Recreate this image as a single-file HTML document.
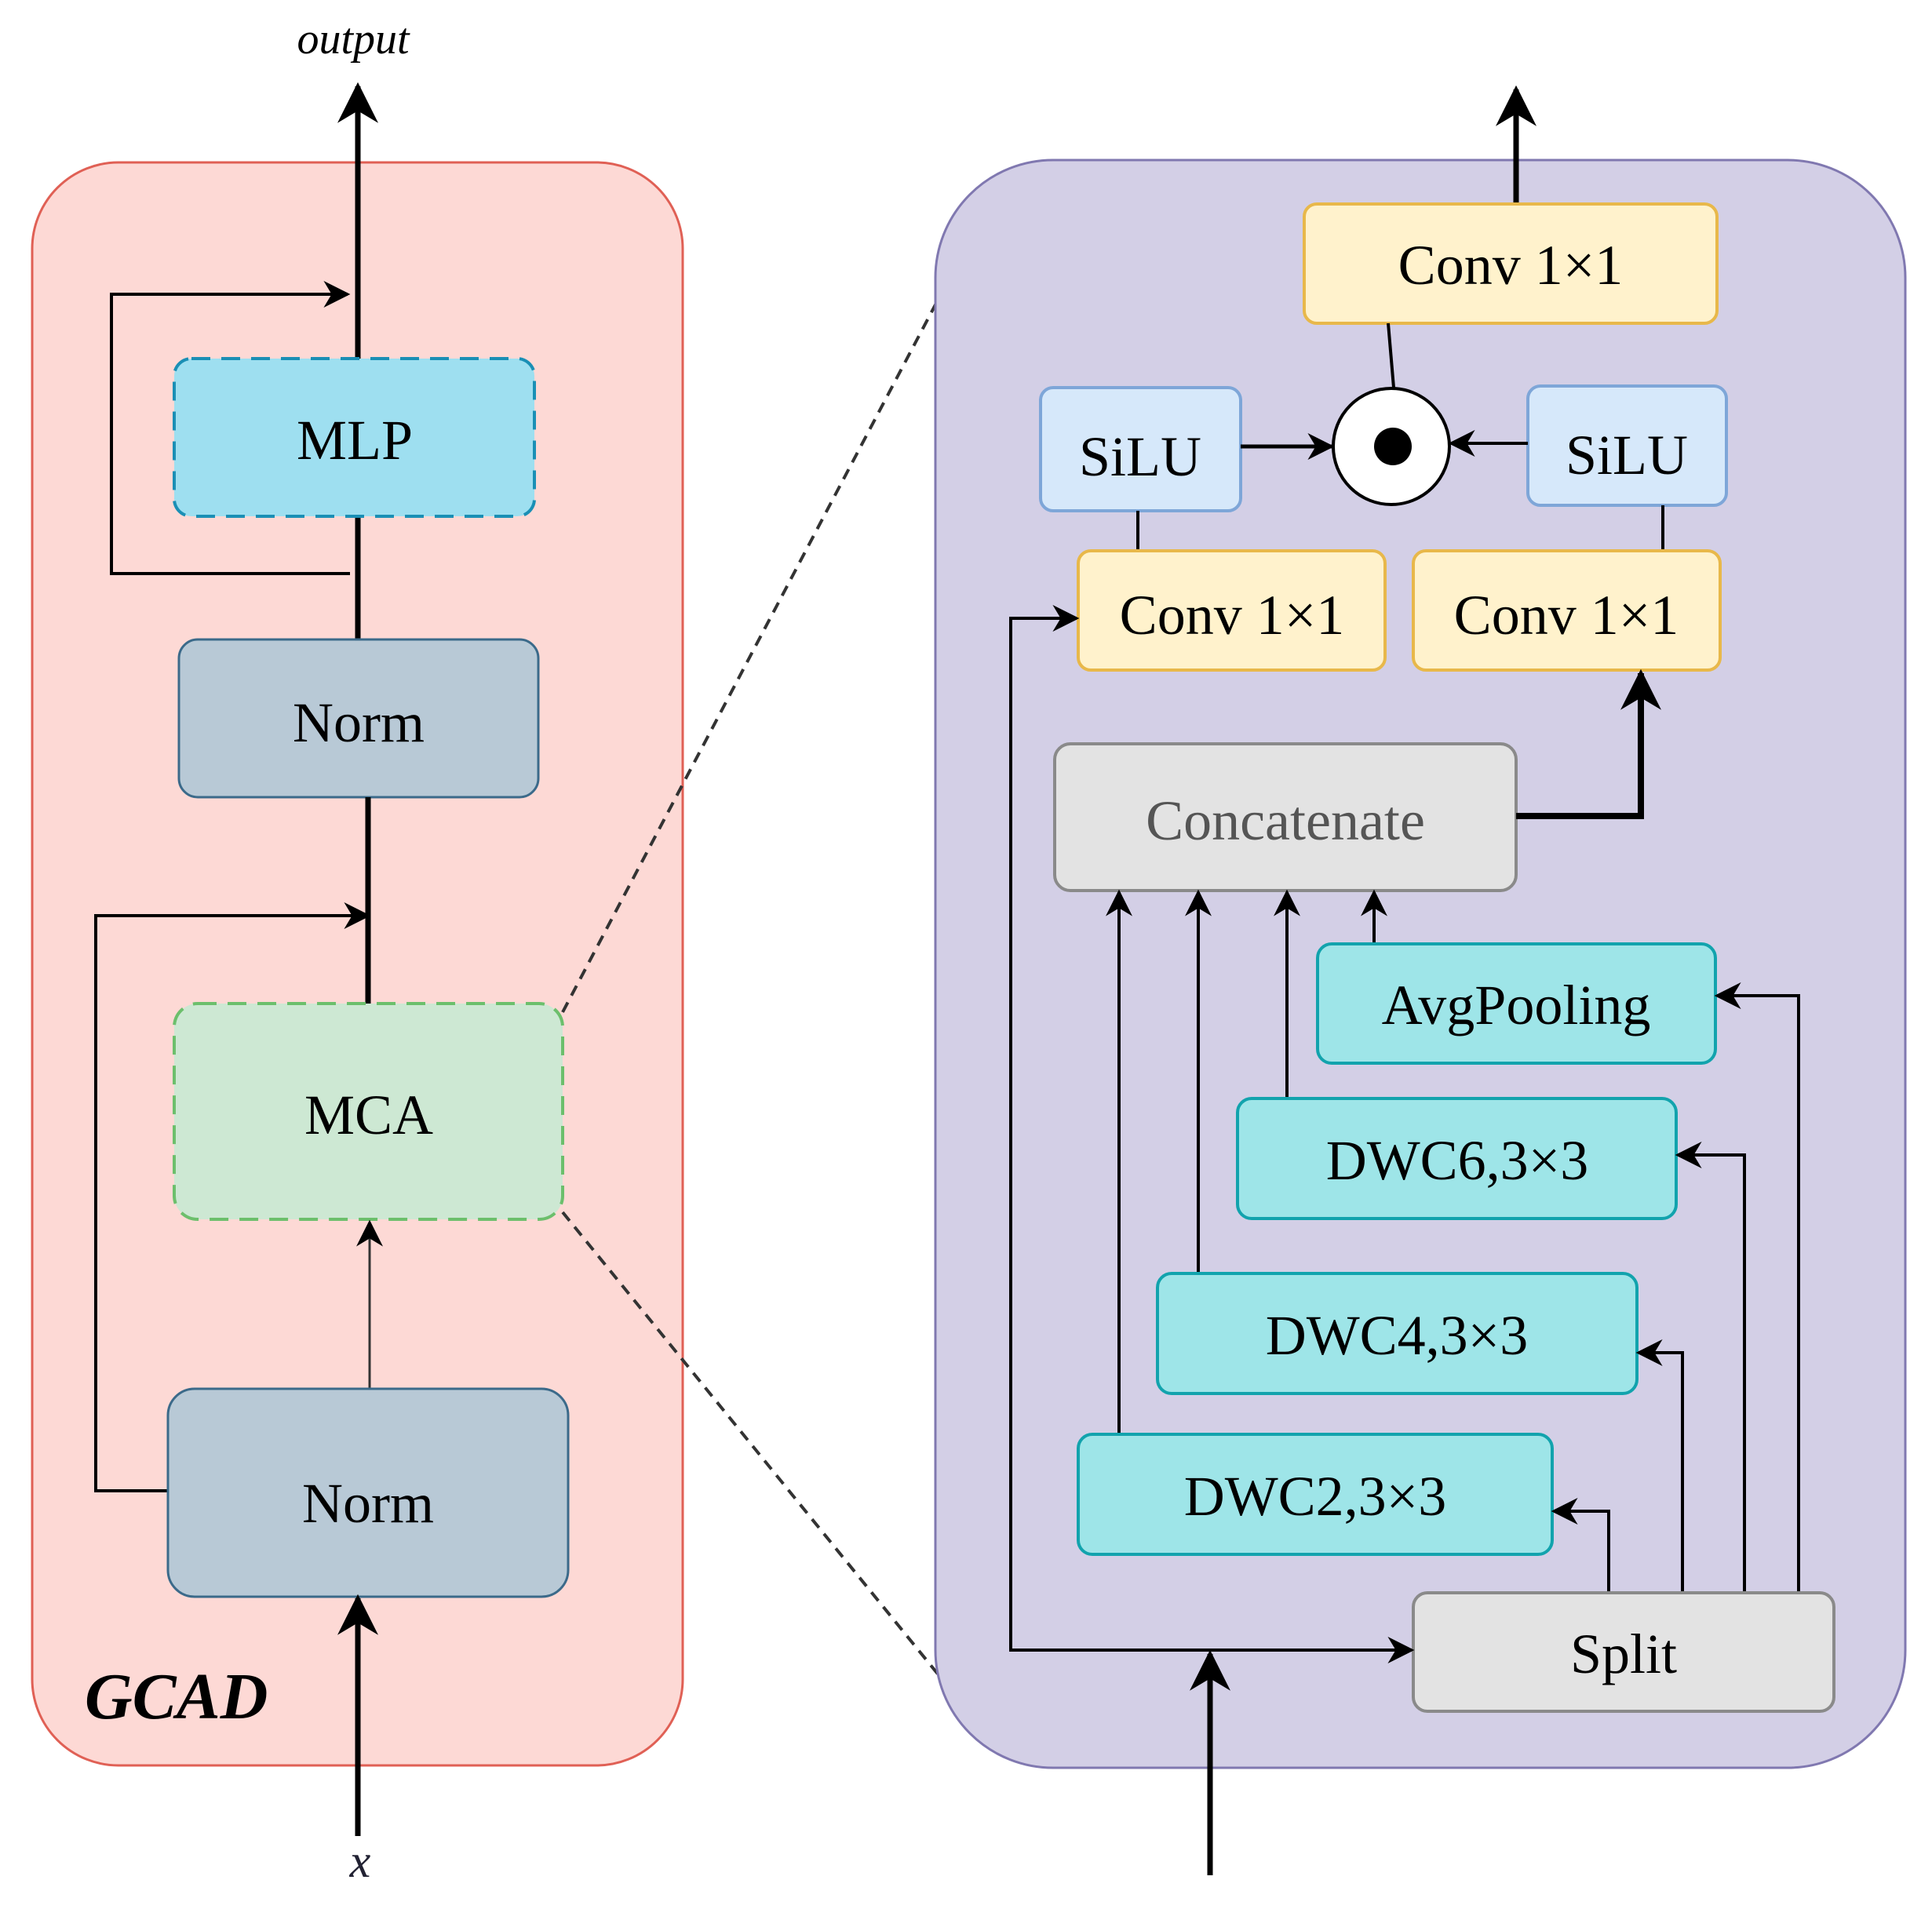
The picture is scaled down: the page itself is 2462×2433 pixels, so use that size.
<!DOCTYPE html>
<html><head><meta charset="utf-8"><style>html,body{margin:0;padding:0;background:#fff}svg{display:block}</style></head>
<body>
<svg width="2462" height="2433" viewBox="0 0 2462 2433" xmlns="http://www.w3.org/2000/svg" font-family="'Liberation Serif', serif">
<defs>
<marker id="a" viewBox="0 0 10 10" refX="9" refY="5" markerWidth="10" markerHeight="10" markerUnits="userSpaceOnUse" orient="auto"><path d="M0,0 L10,5 L0,10 L3,5 z" fill="#000"/></marker>
<marker id="am" viewBox="0 0 10 10" refX="9" refY="5" markerWidth="34" markerHeight="34" markerUnits="userSpaceOnUse" orient="auto"><path d="M0,0 L10,5 L0,10 L3,5 z" fill="#000"/></marker>
<marker id="ab" viewBox="0 0 10 10" refX="9" refY="5" markerWidth="52" markerHeight="52" markerUnits="userSpaceOnUse" orient="auto"><path d="M0,0 L10,5 L0,10 L3,5 z" fill="#000"/></marker>
</defs>

<!-- Left GCAD -->
<rect x="41" y="207" width="829" height="2043" rx="110" fill="#fdd9d5" stroke="#e06055" stroke-width="3"/>
<text x="450" y="68" font-size="56" font-style="italic" text-anchor="middle">output</text>
<line x1="456" y1="457" x2="456" y2="110" stroke="#000" stroke-width="7" marker-end="url(#ab)"/>
<line x1="456" y1="658" x2="456" y2="815" stroke="#000" stroke-width="7"/>
<polyline points="446,731 142,731 142,375 443,375" fill="none" stroke="#000" stroke-width="4" marker-end="url(#am)"/>
<rect x="222" y="457" width="459" height="201" rx="22" fill="#9edff0" stroke="#1a8fb5" stroke-width="4" stroke-dasharray="24,14"/>
<text x="452" y="585" font-size="72" text-anchor="middle">MLP</text>
<rect x="228" y="815" width="458" height="201" rx="24" fill="#b8c9d6" stroke="#3b6a8a" stroke-width="3"/>
<text x="457" y="945" font-size="72" text-anchor="middle">Norm</text>
<line x1="469" y1="1016" x2="469" y2="1279" stroke="#000" stroke-width="7"/>
<polyline points="214,1900 122,1900 122,1167 469,1167" fill="none" stroke="#000" stroke-width="4" marker-end="url(#am)"/>
<rect x="222" y="1279" width="495" height="275" rx="30" fill="#cde8d3" stroke="#6cbf6c" stroke-width="4" stroke-dasharray="24,14"/>
<text x="470" y="1445" font-size="72" text-anchor="middle">MCA</text>
<line x1="471" y1="1770" x2="471" y2="1558" stroke="#333" stroke-width="3" marker-end="url(#am)"/>
<rect x="214" y="1770" width="510" height="265" rx="34" fill="#b8c9d6" stroke="#3b6a8a" stroke-width="3"/>
<text x="469" y="1940" font-size="72" text-anchor="middle">Norm</text>
<line x1="456" y1="2340" x2="456" y2="2037" stroke="#000" stroke-width="7" marker-end="url(#ab)"/>
<text x="108" y="2190" font-size="84" font-weight="bold" font-style="italic">GCAD</text>
<text x="459" y="2392" font-size="60" font-style="italic" fill="#223" text-anchor="middle">x</text>

<!-- dashed zoom lines -->
<line x1="717" y1="1290" x2="1199" y2="375" stroke="#333" stroke-width="4" stroke-dasharray="14,10"/>
<line x1="717" y1="1545" x2="1228" y2="2174" stroke="#333" stroke-width="4" stroke-dasharray="14,10"/>

<!-- Right MCA detail -->
<rect x="1192" y="204" width="1236" height="2049" rx="150" fill="#d3cfe6" stroke="#8078b0" stroke-width="3"/>
<line x1="1932" y1="261" x2="1932" y2="114" stroke="#000" stroke-width="7" marker-end="url(#ab)"/>
<rect x="1662" y="260" width="526" height="152" rx="16" fill="#fff2cc" stroke="#e8b84a" stroke-width="4"/>
<text x="1925" y="362" font-size="72" text-anchor="middle">Conv 1×1</text>
<line x1="1769" y1="412" x2="1776" y2="494" stroke="#000" stroke-width="4"/>
<circle cx="1773" cy="569" r="74" fill="#fff" stroke="#000" stroke-width="4"/>
<circle cx="1775" cy="569" r="24" fill="#000"/>
<rect x="1326" y="494" width="255" height="157" rx="16" fill="#d6e8fa" stroke="#7ea6d8" stroke-width="4"/>
<text x="1453" y="606" font-size="72" text-anchor="middle">SiLU</text>
<rect x="1947" y="492" width="253" height="152" rx="16" fill="#d6e8fa" stroke="#7ea6d8" stroke-width="4"/>
<text x="2073" y="604" font-size="72" text-anchor="middle">SiLU</text>
<line x1="1581" y1="569" x2="1697" y2="569" stroke="#000" stroke-width="5" marker-end="url(#am)"/>
<line x1="1947" y1="565" x2="1849" y2="565" stroke="#000" stroke-width="4" marker-end="url(#am)"/>
<line x1="1450" y1="651" x2="1450" y2="702" stroke="#000" stroke-width="4"/>
<line x1="2119" y1="644" x2="2119" y2="702" stroke="#000" stroke-width="4"/>
<rect x="1374" y="702" width="391" height="152" rx="16" fill="#fff2cc" stroke="#e8b84a" stroke-width="4"/>
<text x="1570" y="808" font-size="72" text-anchor="middle">Conv 1×1</text>
<rect x="1801" y="702" width="391" height="152" rx="16" fill="#fff2cc" stroke="#e8b84a" stroke-width="4"/>
<text x="1996" y="808" font-size="72" text-anchor="middle">Conv 1×1</text>
<rect x="1344" y="948" width="588" height="187" rx="20" fill="#e3e3e3" stroke="#8a8a8a" stroke-width="4"/>
<text x="1638" y="1070" font-size="72" fill="#555" text-anchor="middle">Concatenate</text>
<polyline points="1932,1040 2091,1040 2091,858" fill="none" stroke="#000" stroke-width="8" marker-end="url(#ab)"/>

<!-- inputs to concat -->
<line x1="1426" y1="1828" x2="1426" y2="1137" stroke="#000" stroke-width="4" marker-end="url(#am)"/>
<line x1="1527" y1="1623" x2="1527" y2="1137" stroke="#000" stroke-width="4" marker-end="url(#am)"/>
<line x1="1640" y1="1400" x2="1640" y2="1137" stroke="#000" stroke-width="4" marker-end="url(#am)"/>
<line x1="1751" y1="1203" x2="1751" y2="1137" stroke="#000" stroke-width="4" marker-end="url(#am)"/>

<rect x="1679" y="1203" width="507" height="152" rx="18" fill="#9ee5e8" stroke="#12a3ad" stroke-width="4"/>
<text x="1932" y="1305" font-size="72" text-anchor="middle">AvgPooling</text>
<rect x="1577" y="1400" width="559" height="153" rx="18" fill="#9ee5e8" stroke="#12a3ad" stroke-width="4"/>
<text x="1857" y="1503" font-size="72" text-anchor="middle">DWC6,3×3</text>
<rect x="1475" y="1623" width="611" height="153" rx="18" fill="#9ee5e8" stroke="#12a3ad" stroke-width="4"/>
<text x="1780" y="1726" font-size="72" text-anchor="middle">DWC4,3×3</text>
<rect x="1374" y="1828" width="604" height="153" rx="18" fill="#9ee5e8" stroke="#12a3ad" stroke-width="4"/>
<text x="1676" y="1931" font-size="72" text-anchor="middle">DWC2,3×3</text>

<!-- split outputs -->
<polyline points="2050,2030 2050,1926 1980,1926" fill="none" stroke="#000" stroke-width="4" marker-end="url(#am)"/>
<polyline points="2144,2030 2144,1724 2088,1724" fill="none" stroke="#000" stroke-width="4" marker-end="url(#am)"/>
<polyline points="2223,2030 2223,1472 2138,1472" fill="none" stroke="#000" stroke-width="4" marker-end="url(#am)"/>
<polyline points="2292,2030 2292,1269 2188,1269" fill="none" stroke="#000" stroke-width="4" marker-end="url(#am)"/>

<rect x="1801" y="2030" width="536" height="151" rx="18" fill="#e3e3e3" stroke="#8a8a8a" stroke-width="4"/>
<text x="2069" y="2132" font-size="72" text-anchor="middle">Split</text>
<polyline points="1542,2103 1288,2103 1288,788 1372,788" fill="none" stroke="#000" stroke-width="4" marker-end="url(#am)"/>
<line x1="1542" y1="2103" x2="1799" y2="2103" stroke="#000" stroke-width="4" marker-end="url(#am)"/>
<line x1="1542" y1="2390" x2="1542" y2="2108" stroke="#000" stroke-width="7" marker-end="url(#ab)"/>
</svg>
</body></html>
